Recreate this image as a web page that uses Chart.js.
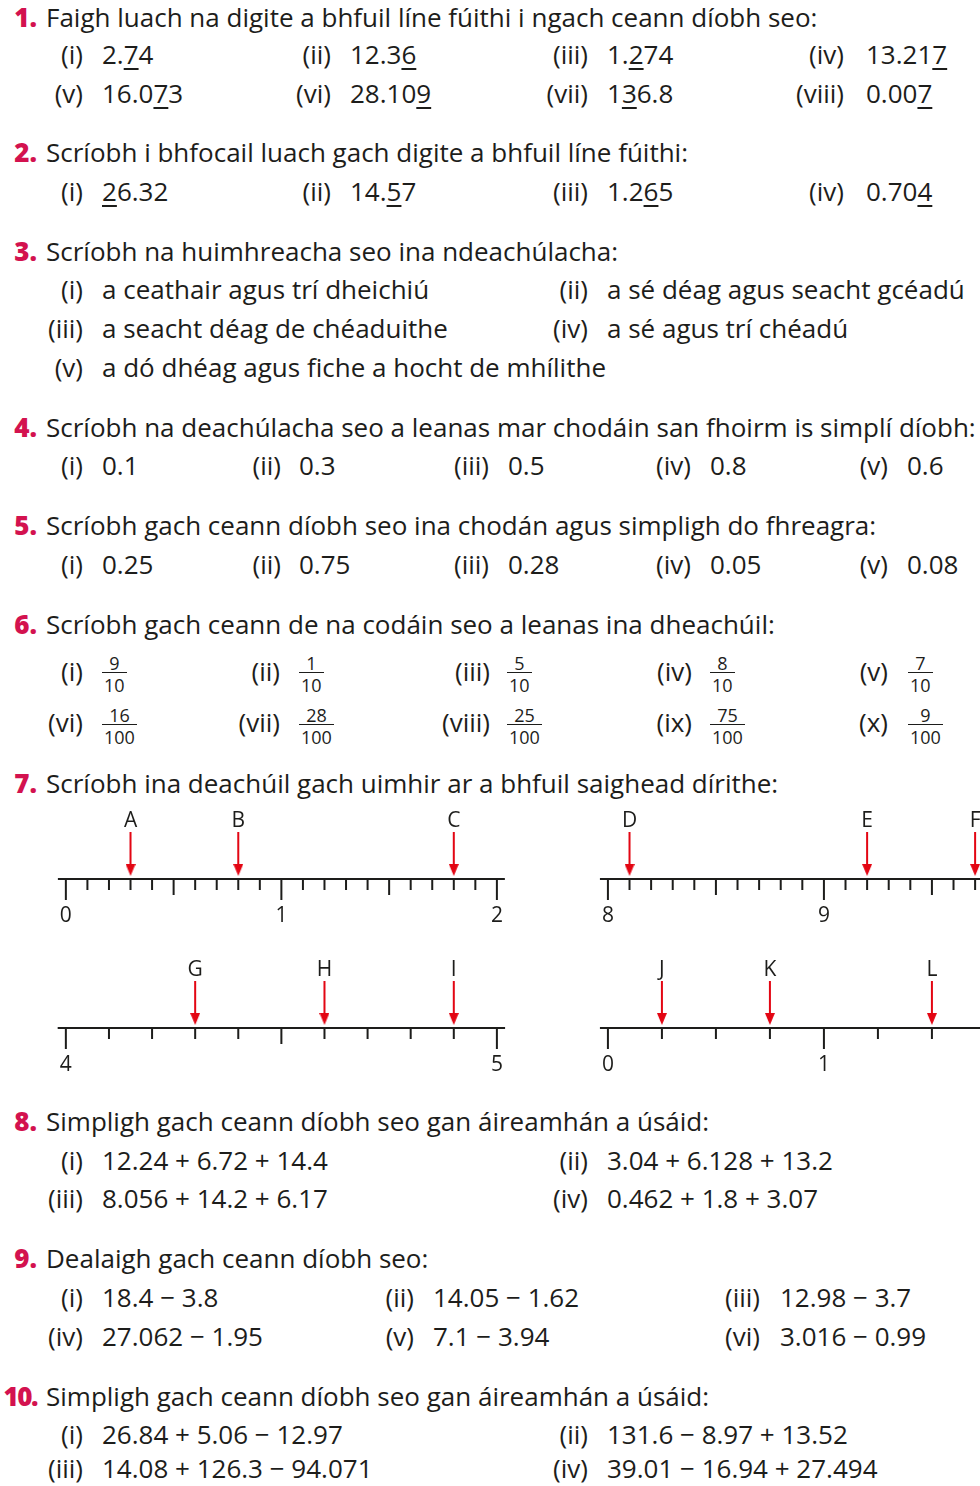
<!DOCTYPE html>
<html lang="ga">
<head>
<meta charset="UTF-8">
<title>Deachúlacha – cleachtaí</title>
<script src="https://cdn.jsdelivr.net/npm/chart.js"></script>
<style>
  body { margin: 0; background: #fff; overflow: hidden; }
  #page { position: relative; width: 980px; height: 1486px; overflow: hidden;
          font-family: 'Open Sans', sans-serif; font-size: 26px; color: #1d1d1b; }
  .t { position: absolute; line-height: 26px; white-space: nowrap; }
  .n { font-weight: 800; color: #d3124f; }
  .tight { letter-spacing: -1.5px; }
  u { text-decoration-thickness: 2px; text-underline-offset: 4px; }
  .frac { position: absolute; display: flex; flex-direction: column; text-align: center; font-size: 18px; }
  .frac .up { line-height: 17px; height: 17px; border-bottom: 1.5px solid #1d1d1b; padding: 0 2px; }
  .frac .dn { line-height: 24px; padding: 0 2px; }
  canvas { position: absolute; }
</style>
</head>
<body>
<div id="page">
  <canvas id="lineA" width="500" height="120" style="left:40px;top:811px"></canvas>
  <canvas id="lineB" width="432" height="120" style="left:582px;top:811px"></canvas>
  <canvas id="lineC" width="500" height="120" style="left:40px;top:960px"></canvas>
  <canvas id="lineD" width="432" height="120" style="left:582px;top:960px"></canvas>
</div>
<script>
// ---- number line data (question 7) ----
const ticksA = [0, 0.1, 0.2, 0.3, 0.4, 0.5, 0.6, 0.7, 0.8, 0.9, 1, 1.1, 1.2, 1.3, 1.4, 1.5, 1.6, 1.7, 1.8, 1.9, 2];
const majorA = [0, 1, 2];
const midA = [0.5, 1.5];
const arrowsA = [0.3, 0.8, 1.8];
const lettersA = ['A', 'B', 'C'];

const ticksB = [8, 8.1, 8.2, 8.3, 8.4, 8.5, 8.6, 8.7, 8.8, 8.9, 9, 9.1, 9.2, 9.3, 9.4, 9.5, 9.6, 9.7, 9.8];
const majorB = [8, 9];
const midB = [8.5, 9.5];
const arrowsB = [8.1, 9.2, 9.7];
const lettersB = ['D', 'E', 'F'];

const ticksC = [4, 4.1, 4.2, 4.3, 4.4, 4.5, 4.6, 4.7, 4.8, 4.9, 5];
const majorC = [4, 5];
const midC = [4.5];
const arrowsC = [4.3, 4.6, 4.9];
const lettersC = ['G', 'H', 'I'];

const ticksD = [0, 0.25, 0.5, 0.75, 1, 1.25, 1.5, 1.75];
const majorD = [0, 1];
const midD = [];
const arrowsD = [0.25, 0.75, 1.5];
const lettersD = ['J', 'K', 'L'];

const ink = '#1d1d1b';
const red = '#e30613';

// ---- page text ----
const page = document.getElementById('page');
function put(html, x, base, cls, right) {
  const d = document.createElement('div');
  d.className = 't' + (cls ? ' ' + cls : '');
  d.innerHTML = html;
  d.style.top = (base - 23) + 'px';
  if (right) d.style.right = (980 - x) + 'px'; else d.style.left = x + 'px';
  page.appendChild(d);
}
function head(n, base, text) {
  put(n, 37, base, n.length > 2 ? 'n tight' : 'n', true);
  put(text, 46, base);
}
function row(base, cols, items) {
  items.forEach((it, i) => {
    put(it[0], cols[i][0], base, '', true);
    put(it[1], cols[i][1], base);
  });
}
function fracRow(base, bar, labelsR, lefts, items) {
  items.forEach((it, i) => {
    put(it[0], labelsR[i], base, '', true);
    const f = document.createElement('div');
    f.className = 'frac';
    f.style.left = lefts[i] + 'px';
    f.style.top = (bar - 18) + 'px';
    f.innerHTML = '<div class="up">' + it[1] + '</div><div class="dn">' + it[2] + '</div>';
    page.appendChild(f);
  });
}

const cols4 = [[83, 102], [331, 350], [588, 607], [844, 866]];
const cols2 = [[83, 102], [588, 607]];
const cols5 = [[83, 102], [281, 299], [489, 508], [691, 710], [888, 907]];
const cols3 = [[83, 102], [414, 433], [760, 780]];

head('1.', 27, 'Faigh luach na digite a bhfuil líne fúithi i ngach ceann díobh seo:');
row(64, cols4, [['(i)', '2.<u>7</u>4'], ['(ii)', '12.3<u>6</u>'], ['(iii)', '1.<u>2</u>74'], ['(iv)', '13.21<u>7</u>']]);
row(103, cols4, [['(v)', '16.0<u>7</u>3'], ['(vi)', '28.10<u>9</u>'], ['(vii)', '1<u>3</u>6.8'], ['(viii)', '0.00<u>7</u>']]);

head('2.', 162, 'Scríobh i bhfocail luach gach digite a bhfuil líne fúithi:');
row(201, cols4, [['(i)', '<u>2</u>6.32'], ['(ii)', '14.<u>5</u>7'], ['(iii)', '1.2<u>6</u>5'], ['(iv)', '0.70<u>4</u>']]);

head('3.', 261, 'Scríobh na huimhreacha seo ina ndeachúlacha:');
row(299, cols2, [['(i)', 'a ceathair agus trí dheichiú'], ['(ii)', 'a sé déag agus seacht gcéadú']]);
row(338, cols2, [['(iii)', 'a seacht déag de chéaduithe'], ['(iv)', 'a sé agus trí chéadú']]);
row(377, cols2, [['(v)', 'a dó dhéag agus fiche a hocht de mhílithe']]);

head('4.', 437, 'Scríobh na deachúlacha seo a leanas mar chodáin san fhoirm is simplí díobh:');
row(475, cols5, [['(i)', '0.1'], ['(ii)', '0.3'], ['(iii)', '0.5'], ['(iv)', '0.8'], ['(v)', '0.6']]);

head('5.', 535, 'Scríobh gach ceann díobh seo ina chodán agus simpligh do fhreagra:');
row(574, cols5, [['(i)', '0.25'], ['(ii)', '0.75'], ['(iii)', '0.28'], ['(iv)', '0.05'], ['(v)', '0.08']]);

head('6.', 634, 'Scríobh gach ceann de na codáin seo a leanas ina dheachúil:');
const fracLabelR = [83, 280, 490, 692, 888];
const fracLeft = [102, 299, 507, 710, 908];
fracRow(681, 673, fracLabelR, fracLeft, [['(i)', '9', '10'], ['(ii)', '1', '10'], ['(iii)', '5', '10'], ['(iv)', '8', '10'], ['(v)', '7', '10']]);
fracRow(732, 725, fracLabelR, fracLeft, [['(vi)', '16', '100'], ['(vii)', '28', '100'], ['(viii)', '25', '100'], ['(ix)', '75', '100'], ['(x)', '9', '100']]);

head('7.', 793, 'Scríobh ina deachúil gach uimhir ar a bhfuil saighead dírithe:');

head('8.', 1131, 'Simpligh gach ceann díobh seo gan áireamhán a úsáid:');
row(1170, cols2, [['(i)', '12.24 + 6.72 + 14.4'], ['(ii)', '3.04 + 6.128 + 13.2']]);
row(1208, cols2, [['(iii)', '8.056 + 14.2 + 6.17'], ['(iv)', '0.462 + 1.8 + 3.07']]);

head('9.', 1268, 'Dealaigh gach ceann díobh seo:');
row(1307, cols3, [['(i)', '18.4 − 3.8'], ['(ii)', '14.05 − 1.62'], ['(iii)', '12.98 − 3.7']]);
row(1346, cols3, [['(iv)', '27.062 − 1.95'], ['(v)', '7.1 − 3.94'], ['(vi)', '3.016 − 0.99']]);

head('10.', 1406, 'Simpligh gach ceann díobh seo gan áireamhán a úsáid:');
row(1444, cols2, [['(i)', '26.84 + 5.06 − 12.97'], ['(ii)', '131.6 − 8.97 + 13.52']]);
row(1478, cols2, [['(iii)', '14.08 + 126.3 − 94.071'], ['(iv)', '39.01 − 16.94 + 27.494']]);

// ---- number lines ----
Chart.defaults.font.family = "'Open Sans', sans-serif";
Chart.defaults.color = ink;

// red arrow head, tip pointing down
const arrowHead = document.createElement('canvas');
arrowHead.width = 10;
arrowHead.height = 12;
const g = arrowHead.getContext('2d');
g.fillStyle = red;
g.beginPath();
g.moveTo(0, 0);
g.lineTo(10, 0);
g.lineTo(5, 12);
g.closePath();
g.fill();

function numberLine(id, o) {
  // y units are pixels above the line
  const len = v => o.major.includes(v) ? 21 : (o.mid.includes(v) ? 16 : 11);
  const tickSegs = [];
  o.ticks.forEach(v => tickSegs.push({x: v, y: 0}, {x: v, y: -len(v)}, {x: v, y: null}));
  const shafts = [];
  o.arrows.forEach(v => shafts.push({x: v, y: 47}, {x: v, y: 12}, {x: v, y: null}));
  const heads = o.arrows.map(v => ({x: v, y: 9}));

  new Chart(document.getElementById(id), {
    type: 'line',
    data: {
      datasets: [
        {data: [{x: o.from, y: 0}, {x: o.to, y: 0}], borderColor: ink, borderWidth: 2, pointRadius: 0, xAxisID: 'x'},
        {data: tickSegs, borderColor: ink, borderWidth: 2, pointRadius: 0, spanGaps: false, xAxisID: 'x'},
        {data: shafts, borderColor: red, borderWidth: 2, pointRadius: 0, spanGaps: false, xAxisID: 'x'},
        {data: heads, showLine: false, pointStyle: arrowHead, pointRadius: 6, xAxisID: 'x'}
      ]
    },
    options: {
      responsive: false,
      animation: false,
      events: [],
      layout: {padding: 0, autoPadding: false},
      plugins: {legend: {display: false}, tooltip: {enabled: false}},
      scales: {
        x: {
          type: 'linear', position: 'bottom', min: o.min, max: o.max,
          grid: {display: false, drawTicks: false}, border: {display: false},
          afterBuildTicks: a => { a.ticks = o.major.map(v => ({value: v})); },
          ticks: {padding: 3, font: {size: 21, lineHeight: '24px'}, color: ink, maxRotation: 0, autoSkip: false}
        },
        xt: {
          type: 'linear', axis: 'x', position: 'top', min: o.min, max: o.max,
          grid: {display: false, drawTicks: false}, border: {display: false},
          afterBuildTicks: a => { a.ticks = o.arrows.map(v => ({value: v})); },
          ticks: {padding: 0, font: {size: 21, lineHeight: '20px'}, color: ink, maxRotation: 0, autoSkip: false,
                  callback: (v, i) => o.letters[i]}
        },
        y: {type: 'linear', display: false, min: -22, max: 48}
      }
    }
  });
}

numberLine('lineA', {min: -0.12, max: 2.2, from: -0.037, to: 2.037,
  ticks: ticksA, major: majorA, mid: midA, arrows: arrowsA, letters: lettersA});
numberLine('lineB', {min: 7.88, max: 9.88, from: 7.963, to: 9.88,
  ticks: ticksB, major: majorB, mid: midB, arrows: arrowsB, letters: lettersB});
numberLine('lineC', {min: 3.94, max: 5.1, from: 3.981, to: 5.019,
  ticks: ticksC, major: majorC, mid: midC, arrows: arrowsC, letters: lettersC});
numberLine('lineD', {min: -0.12, max: 1.88, from: -0.037, to: 1.88,
  ticks: ticksD, major: majorD, mid: midD, arrows: arrowsD, letters: lettersD});
</script>
</body>
</html>
